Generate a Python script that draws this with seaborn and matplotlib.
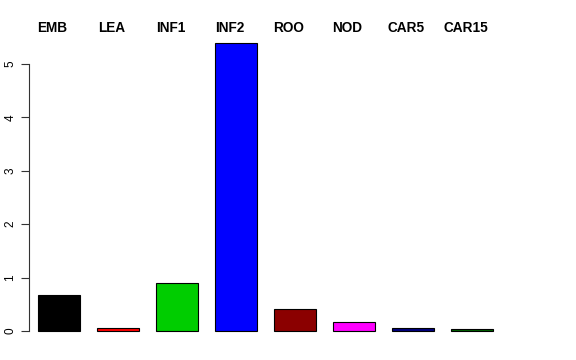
import matplotlib
matplotlib.use("Agg")
import matplotlib.pyplot as plt
import matplotlib.transforms as mtransforms
import seaborn as sns
import pandas as pd

categories = ["EMB", "LEA", "INF1", "INF2", "ROO", "NOD", "CAR5", "CAR15"]
values = [0.67, 0.056, 0.89, 5.39, 0.41, 0.175, 0.056, 0.045]
colors = ["#000000", "#FF0000", "#00CD00", "#0000FF", "#8B0000", "#FF00FF", "#000080", "#006400"]
yticks = [0, 1, 2, 3, 4, 5]

sns.set_style("white")
plt.rcParams["font.family"] = ["Liberation Sans", "DejaVu Sans"]
plt.rcParams["text.color"] = "black"
plt.rcParams["ytick.color"] = "black"

fig = plt.figure(figsize=(5.76, 3.6), dpi=100)
ax = fig.add_axes([29 / 576, 1 - 340 / 360, (560 - 29) / 576, 320 / 360])

df = pd.DataFrame({"cat": categories, "val": values})
sns.barplot(data=df, x="cat", y="val", hue="cat", palette=colors, width=0.71,
            edgecolor="black", linewidth=0.8, legend=False, ax=ax, saturation=1)

ax.set_xlim(-0.508, (560 - 59) / 59)
ax.set_ylim(-0.169, 5.824)

for s in ["top", "right", "bottom"]:
    ax.spines[s].set_visible(False)
ax.spines["left"].set_bounds(0, 5)
ax.spines["left"].set_color("#333333")
ax.spines["left"].set_linewidth(0.8)

ax.set_xticks([])
ax.set_xlabel("")
ax.set_ylabel("")
ax.set_yticks(yticks)
ax.set_yticklabels([str(t) for t in yticks], rotation=90, va="center", fontsize=8.5, color="black")
ax.tick_params(axis="y", direction="out", length=6, width=0.8, color="#333333", left=True, pad=3)

trans = mtransforms.blended_transform_factory(ax.transData, fig.transFigure)
for i, c in enumerate(categories):
    ax.text(i - 0.11, 1 - 28 / 360, c, transform=trans, ha="center", va="center",
            fontsize=9.8, fontweight="bold", color="black")

fig.savefig("out.png", dpi=100)
